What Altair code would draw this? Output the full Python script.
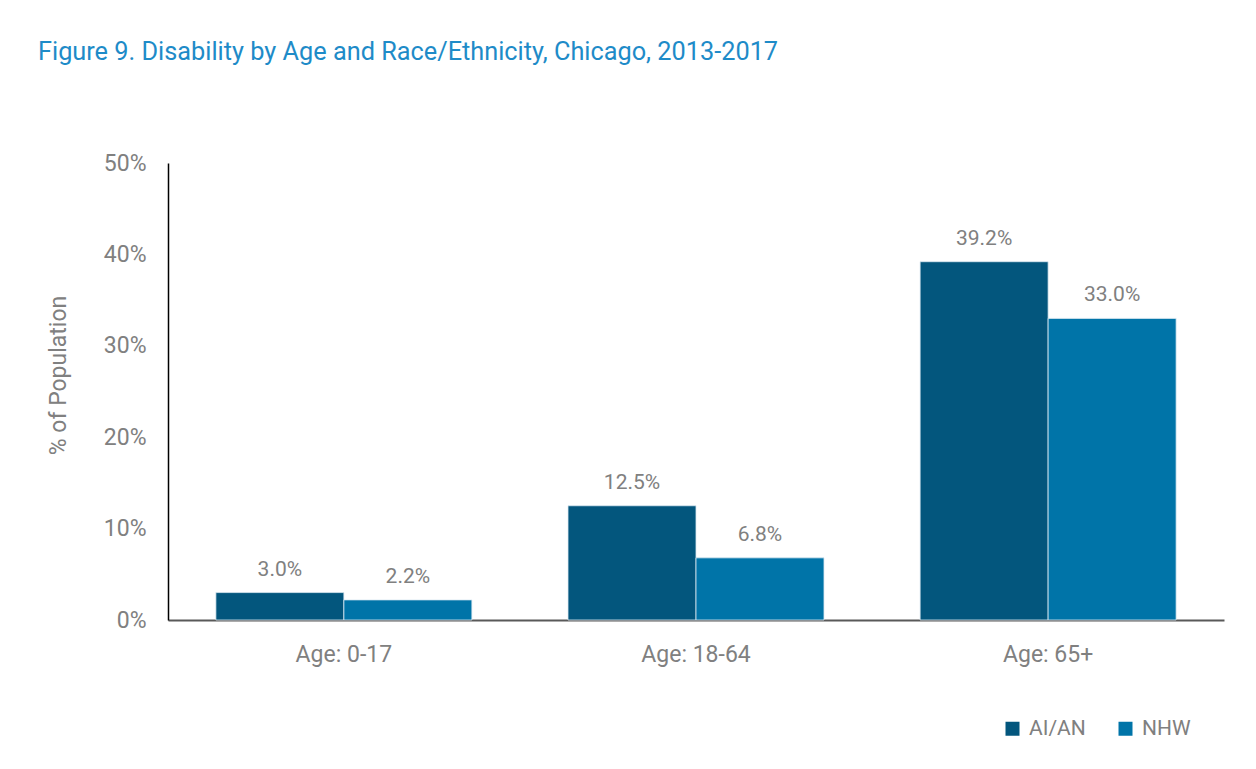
import altair as alt
import pandas as pd

ages = ["Age: 0-17", "Age: 18-64", "Age: 65+"]
groups = ["AI/AN", "NHW"]
ai_an = [3.0, 12.5, 39.2]
nhw = [2.2, 6.8, 33.0]
colors = ["#03567D", "#0074A8"]
y_ticks = [0, 10, 20, 30, 40, 50]

rows = []
for i, a in enumerate(ages):
    rows.append({"age": a, "group": groups[0], "value": ai_an[i]})
    rows.append({"age": a, "group": groups[1], "value": nhw[i]})
df = pd.DataFrame(rows)

FONT = "Roboto"
GRAY = "#808080"

x = alt.X("age:N", sort=ages, title=None,
          scale=alt.Scale(paddingInner=0.273, paddingOuter=0.136),
          axis=alt.Axis(labelAngle=0, labelFontSize=23, labelColor=GRAY, labelFont=FONT,
                        ticks=False, domainColor="#595959", domainWidth=2, labelPadding=23))
xo = alt.XOffset("group:N", sort=groups, scale=alt.Scale(paddingInner=0, paddingOuter=0))
y = alt.Y("value:Q", title="% of Population",
          scale=alt.Scale(domain=[0, 50]),
          axis=alt.Axis(values=y_ticks, labelExpr="datum.value + '%'", grid=False, ticks=False,
                        labelFontSize=23, labelColor=GRAY, labelFont=FONT, labelPadding=22,
                        domainColor="#000000", domainWidth=1.5,
                        titleFontSize=23, titleColor=GRAY, titleFont=FONT, titleFontWeight="normal",
                        titleX=-110, titleY=212, titleBaseline="middle", titleAngle=270))
color = alt.Color("group:N", sort=groups, scale=alt.Scale(domain=groups, range=colors),
                  legend=alt.Legend(title=None, orient="none", legendX=834, legendY=555,
                                    direction="horizontal", symbolType="square", symbolSize=196,
                                    symbolStrokeWidth=0, labelFontSize=21, labelColor=GRAY,
                                    labelFont=FONT, columnPadding=29, labelOffset=6))

bars = alt.Chart(df).mark_bar(stroke="#DDEAF2", strokeWidth=0.8).encode(x=x, xOffset=xo, y=y, color=color)
labels = alt.Chart(df).transform_calculate(
    label="format(datum.value, '.1f') + '%'"
).mark_text(baseline="bottom", dy=-13, fontSize=21, color=GRAY, font=FONT).encode(
    x=alt.X("age:N", sort=ages), xOffset=xo, y="value:Q", text="label:N")

chart = (bars + labels).properties(
    width=1056, height=457,
    autosize=alt.AutoSizeParams(type="none"),
    padding={"left": 160, "top": 155, "right": 24, "bottom": 130},
    view=alt.ViewBackground(stroke="transparent", strokeWidth=0),
    title=alt.TitleParams("Figure 9. Disability by Age and Race/Ethnicity, Chicago, 2013-2017",
                          anchor="start", frame="group", dx=-130, offset=87,
                          fontSize=25.3, font=FONT, fontWeight="normal", color="#1E8BC8"),
).configure_view(stroke="transparent", strokeWidth=0).configure(background="white")

chart.save("out.html", embed_options={"renderer": "svg", "actions": False})
